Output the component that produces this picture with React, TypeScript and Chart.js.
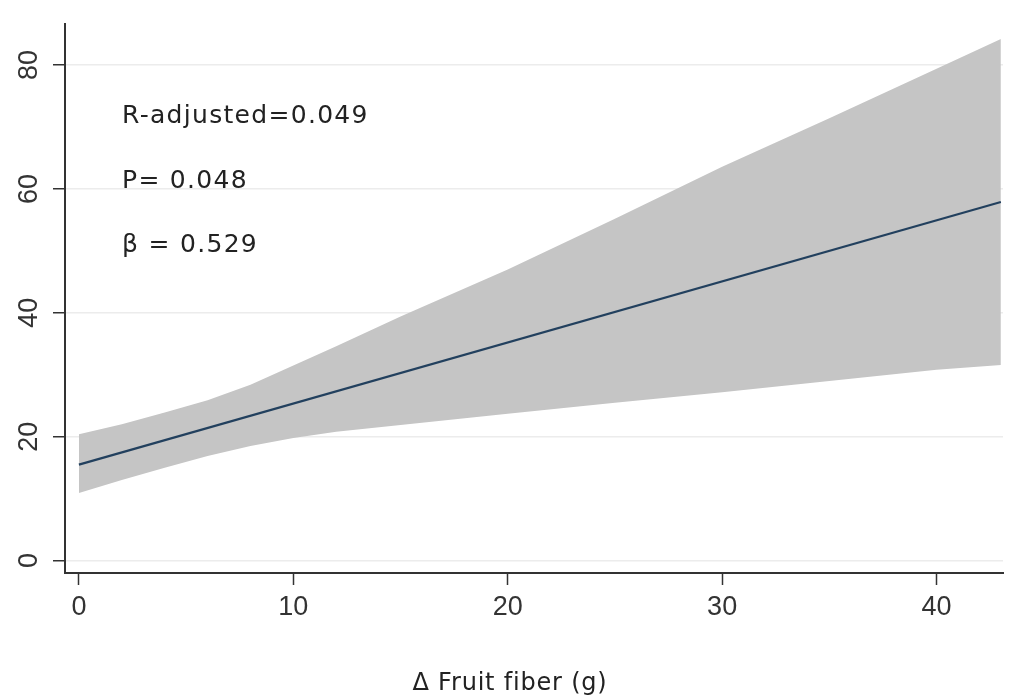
import React, { useEffect, useRef } from "react";
import { Chart, registerables } from "chart.js";

Chart.register(...registerables);

// Fitted regression line
const lineX = [0, 43];
const lineY = [15.5, 57.9];

// Confidence band
const bandX = [0, 2, 4, 6, 8, 10, 12, 15, 20, 25, 30, 35, 40, 43];
const bandLower = [10.9, 13.0, 15.0, 16.9, 18.5, 19.8, 20.8, 21.9, 23.7, 25.5, 27.2, 29.0, 30.8, 31.6];
const bandUpper = [20.4, 22.0, 23.9, 25.9, 28.4, 31.5, 34.6, 39.4, 47.0, 55.2, 63.6, 71.4, 79.4, 84.2];

// Ticks
const xTicks = [0, 10, 20, 30, 40];
const yTicks = [0, 20, 40, 60, 80];

const annotations = ["R-adjusted=0.049", "P= 0.048", "\u03B2 = 0.529"];
const xTitle = "\u0394 Fruit fiber (g)";

export default function App() {
  const ref = useRef<HTMLCanvasElement | null>(null);

  useEffect(() => {
    document.body.style.margin = "0";
    const canvas = ref.current;
    if (!canvas) return;

    const textPlugin = {
      id: "textPlugin",
      afterDraw(chart: any) {
        const ctx = chart.ctx;
        const ca = chart.chartArea;
        ctx.save();
        ctx.fillStyle = "#222";
        ctx.font = "25px 'DejaVu Sans', sans-serif";
        try { (ctx as any).letterSpacing = "1.3px"; } catch (e) {}
        ctx.textAlign = "left";
        ctx.textBaseline = "alphabetic";
        const ys = [123, 188, 252];
        annotations.forEach((t, i) => {
          ctx.fillText(t, ca.left + 57, ys[i]);
        });
        ctx.font = "24px 'DejaVu Sans', sans-serif";
        try { (ctx as any).letterSpacing = "0.8px"; } catch (e) {}
        ctx.textAlign = "center";
        ctx.fillText(xTitle, 510, 690);
        ctx.restore();
      },
    };

    const tickFont = { family: "'Liberation Sans Narrow', 'Arial Narrow', sans-serif", size: 27 };

    const chart = new Chart(canvas, {
      type: "line",
      data: {
        datasets: [
          {
            data: lineX.map((x, i) => ({ x, y: lineY[i] })),
            borderColor: "#22405e",
            borderWidth: 2.2,
            pointRadius: 0,
            fill: false,
          },
          {
            data: bandX.map((x, i) => ({ x, y: bandLower[i] })),
            borderWidth: 0,
            borderColor: "rgba(0,0,0,0)",
            pointRadius: 0,
            fill: false,
          },
          {
            data: bandX.map((x, i) => ({ x, y: bandUpper[i] })),
            borderWidth: 0,
            borderColor: "rgba(0,0,0,0)",
            backgroundColor: "#c5c5c5",
            pointRadius: 0,
            fill: 1,
          },
        ],
      },
      options: {
        responsive: false,
        animation: false,
        layout: { padding: { top: 8, right: 7, left: 0, bottom: 0 } },
        plugins: { legend: { display: false }, tooltip: { enabled: false } },
        scales: {
          x: {
            type: "linear",
            min: -0.65,
            max: 43.1,
            afterBuildTicks: (s: any) => {
              s.ticks = xTicks.map((v) => ({ value: v }));
            },
            afterFit: (s: any) => {
              s.height = 125;
            },
            border: { display: true, color: "#333", width: 2 },
            grid: {
              drawOnChartArea: false,
              tickColor: "#333",
              tickLength: 12,
              tickWidth: 1.5,
            },
            ticks: {
              color: "#333",
              padding: 6,
              maxRotation: 0,
              font: tickFont,
            },
          },
          y: {
            type: "linear",
            min: -2,
            max: 86.6,
            afterBuildTicks: (s: any) => {
              s.ticks = yTicks.map((v) => ({ value: v }));
            },
            afterFit: (s: any) => {
              s.width = 65;
            },
            border: { display: true, color: "#333", width: 2 },
            grid: {
              color: "#ececec",
              lineWidth: 1.5,
              tickColor: "#333",
              tickLength: 12,
              tickWidth: 1.5,
            },
            ticks: {
              color: "#333",
              padding: 8,
              minRotation: 90,
              maxRotation: 90,
              crossAlign: "center",
              font: tickFont,
            },
          },
        },
      },
      plugins: [textPlugin],
    } as any);

    return () => chart.destroy();
  }, []);

  return (
    <div style={{ width: 1010, height: 698 }}>
      <canvas ref={ref} width={1010} height={698} />
    </div>
  );
}
